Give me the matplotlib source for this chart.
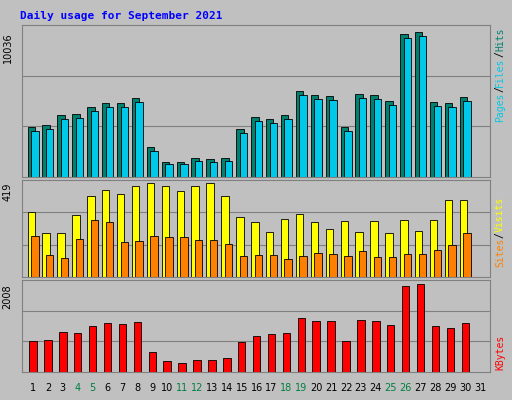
import matplotlib
matplotlib.use("Agg")
import matplotlib.pyplot as plt
import numpy as np

days = list(range(1, 32))
weekend = [4, 5, 11, 12, 18, 19, 25, 26]
hits = [3470, 3610, 4300, 4370, 4850, 5120, 5120, 5470, 2080, 1040, 1040, 1320, 1250, 1320, 3310, 4140, 4000, 4290, 5950, 5680, 5610, 3450, 5750, 5680, 5260, 9900, 10036, 5190, 5120, 5540]
files = [3200, 3330, 4000, 4080, 4570, 4850, 4850, 5190, 1800, 900, 900, 1100, 1040, 1100, 3050, 3870, 3730, 4000, 5680, 5400, 5330, 3180, 5470, 5400, 4990, 9620, 9760, 4910, 4850, 5260]
visits = [290, 196, 196, 276, 361, 388, 370, 406, 419, 406, 383, 406, 419, 361, 267, 245, 200, 258, 281, 245, 214, 250, 200, 250, 196, 254, 205, 254, 343, 343]
sites = [183, 98, 85, 170, 254, 245, 156, 160, 183, 178, 178, 165, 165, 147, 94, 98, 98, 80, 94, 107, 103, 94, 116, 89, 89, 103, 103, 120, 143, 196]
kbytes = [707, 730, 913, 890, 1050, 1118, 1095, 1141, 456, 251, 205, 274, 274, 319, 684, 822, 867, 890, 1232, 1164, 1164, 707, 1187, 1164, 1073, 1962, 2008, 1050, 1004, 1118]

bg = "#C0C0C0"
fig = plt.figure(figsize=(5.12, 4.0), dpi=100)
fig.patch.set_facecolor(bg)
fig.text(20/512, 1-16/400, "Daily usage for September 2021", color="#0000FF",
         family="DejaVu Sans Mono", weight="bold", fontsize=8, va="center")

def mkax(top, bot):
    ax = fig.add_axes([22/512, 1-bot/400, 468/512, (bot-top)/400])
    ax.set_facecolor(bg)
    ax.set_xlim(0.26, 31.66)
    ax.set_xticks([])
    ax.set_yticks([])
    for s in ax.spines.values():
        s.set_color("#808080")
    return ax

x = np.arange(1, 31)
w = 0.5
ax1 = mkax(25, 177)
ax1.set_ylim(0, 10036 * 152 / 145)
for g in (1/3, 2/3):
    ax1.axhline(10036 * g * 1.05, color="#808080", lw=0.8, zorder=0)
ax1.bar(x - 0.12, hits, w, color="#00806F", edgecolor="black", lw=0.6)
ax1.bar(x + 0.12, files, w, color="#00C8E8", edgecolor="black", lw=0.6)
ax1.text(-0.02, 1 - 7/152, "10036", transform=ax1.transAxes, rotation=90, ha="right", va="top", fontsize=7)

ax2 = mkax(180, 277)
ax2.set_ylim(0, 419 * 97 / 94)
for g in (1/3, 2/3):
    ax2.axhline(419 * g * 1.03, color="#808080", lw=0.8, zorder=0)
ax2.bar(x - 0.12, visits, w, color="#FFFF00", edgecolor="black", lw=0.6)
ax2.bar(x + 0.12, sites, w, color="#FF8000", edgecolor="black", lw=0.6)
ax2.text(-0.02, 1 - 3/97, "419", transform=ax2.transAxes, rotation=90, ha="right", va="top", fontsize=7)

ax3 = mkax(280, 372)
ax3.set_ylim(0, 2008 * 92 / 88)
for g in (1/3, 2/3):
    ax3.axhline(2008 * g * 1.04, color="#808080", lw=0.8, zorder=0)
ax3.bar(x, kbytes, w, color="#FF0000", edgecolor="black", lw=0.6)
ax3.text(-0.02, 1 - 4/92, "2008", transform=ax3.transAxes, rotation=90, ha="right", va="top", fontsize=7)

for d in days:
    xf = (22 + (d - 0.26) / 31.4 * 468) / 512
    fig.text(xf, 1 - 388/400, str(d), ha="center", va="center", fontsize=7,
             color="#008040" if d in weekend else "black")

step = 7 * 0.602 / 72 * 100 / 400  # char advance in figure fraction (vertical)

def rlabel(parts, ytop):
    total = sum(len(p) for p, _ in parts)
    pos = 1 - ytop/400 - total * step
    for txt, col in parts:
        fig.text(500/512, pos, txt, rotation=90, color=col, fontsize=7,
                 family="DejaVu Sans Mono", ha="center", va="bottom")
        pos += len(txt) * step

rlabel([("Pages", "#00C8E8"), ("/", "black"), ("Files", "#00C8E8"), ("/", "black"), ("Hits", "#00806F")], 28)
rlabel([("Sites", "#FF8000"), ("/", "black"), ("Visits", "#FFFF00")], 197)
rlabel([("KBytes", "#FF0000")], 335)

fig.savefig("out.png", dpi=100, facecolor=bg)
